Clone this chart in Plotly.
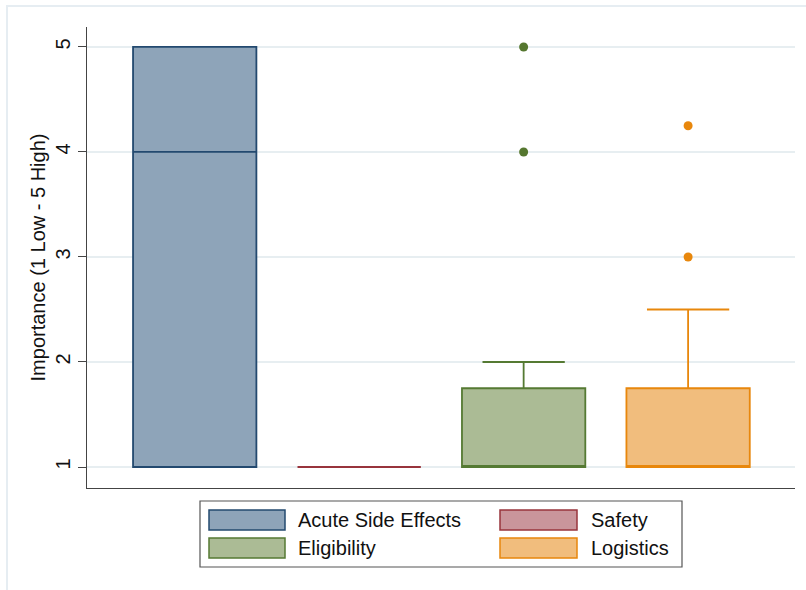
import plotly.graph_objects as go

# Box-plot summary of importance ratings (1 Low - 5 High) by factor
categories = ["Acute Side Effects", "Safety", "Eligibility", "Logistics"]
q1 = [1, 1, 1, 1]
median = [4, 1, 1, 1]
q3 = [5, 1, 1.75, 1.75]
lower_whisker = [1, 1, 1, 1]
upper_whisker = [5, 1, 2, 2.5]
outliers = [[], [], [4, 5], [3, 4.25]]
y_ticks = [1, 2, 3, 4, 5]

fills = ["#8ea4b9", "#c9959b", "#abbb95", "#f1bd7d"]
lines = ["#23496f", "#98343c", "#557a33", "#e8870c"]
dots = ["#23496f", "#98343c", "#55772f", "#e8870c"]

FONT = "Liberation Sans, Arial, Helvetica, sans-serif"
W, H = 806, 590
L, R, T, B = 87, 795, 27, 488

fig = go.Figure()
for i, name in enumerate(categories):
    fig.add_trace(go.Box(
        x=[i], q1=[q1[i]], median=[median[i]], q3=[q3[i]],
        lowerfence=[lower_whisker[i]], upperfence=[upper_whisker[i]],
        name=name, width=0.75, whiskerwidth=0.667,
        fillcolor=fills[i], line=dict(color=lines[i], width=1.8),
        boxpoints=False, showlegend=False, hoverinfo="y",
    ))
    if outliers[i]:
        fig.add_trace(go.Scatter(
            x=[i] * len(outliers[i]), y=outliers[i], mode="markers",
            marker=dict(color=dots[i], size=9), showlegend=False,
            hoverinfo="y",
        ))


def px_x(p):
    return (p - L) / (R - L)


def px_y(p):
    return (B - p) / (B - T)


shapes = [
    # light outline of the graph region
    dict(type="rect", xref="paper", yref="paper",
         x0=px_x(7), x1=px_x(812), y0=px_y(6), y1=px_y(596),
         line=dict(color="#e6edf2", width=2), fillcolor="rgba(0,0,0,0)",
         layer="below"),
    # legend frame
    dict(type="rect", xref="paper", yref="paper",
         x0=px_x(200), x1=px_x(682), y0=px_y(501), y1=px_y(567),
         line=dict(color="#555555", width=1.2), fillcolor="white"),
]
annotations = []
cols = [(209, 285, 296), (500, 577, 589)]
rows = [(510, 530), (538, 558)]
for k, idx in enumerate(range(len(categories))):
    r, c = divmod(k, 2)
    sx0, sx1, tx = cols[c]
    sy0, sy1 = rows[r]
    shapes.append(dict(
        type="rect", xref="paper", yref="paper",
        x0=px_x(sx0), x1=px_x(sx1), y0=px_y(sy0), y1=px_y(sy1),
        line=dict(color=lines[idx], width=1.5), fillcolor=fills[idx]))
    annotations.append(dict(
        xref="paper", yref="paper", x=px_x(tx), y=px_y((sy0 + sy1) / 2),
        text=categories[idx], showarrow=False, xanchor="left",
        yanchor="middle", font=dict(size=20, color="#111111", family=FONT)))

fig.update_layout(
    width=W, height=H,
    margin=dict(l=L, r=W - R, t=T, b=H - B),
    paper_bgcolor="white", plot_bgcolor="white",
    font=dict(family=FONT, size=20, color="#111111"),
    shapes=shapes, annotations=annotations,
    xaxis=dict(range=[-0.655, 3.65], showticklabels=False, ticks="",
               showgrid=False, zeroline=False, showline=True,
               linecolor="#444444", linewidth=1.2, fixedrange=True),
    yaxis=dict(range=[0.8, 5.19], tickvals=y_ticks,
               ticktext=[str(v) for v in y_ticks], tickangle=-90,
               ticks="outside", ticklen=8, tickcolor="#444444",
               showgrid=True, gridcolor="#e7eef1", gridwidth=1.5,
               zeroline=False, showline=True, linecolor="#444444",
               linewidth=1.2,
               title=dict(text="Importance (1 Low - 5 High)",
                          font=dict(size=20), standoff=0),
               tickfont=dict(size=20)),
)

fig.write_html("out.html")
